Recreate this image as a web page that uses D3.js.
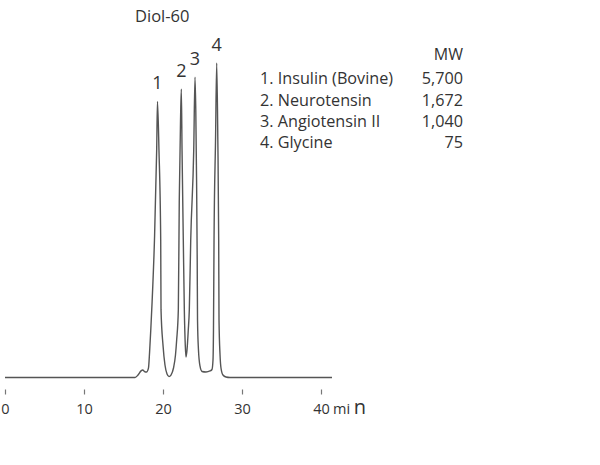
<!DOCTYPE html>
<html>
<head>
<meta charset="utf-8">
<script src="https://cdn.jsdelivr.net/npm/d3@7"></script>
<style>
  html, body { margin: 0; padding: 0; background: #fff; }
  svg { display: block; }
  text { font-family: "Open Sans", "Noto Sans", sans-serif; fill: #333; }
</style>
</head>
<body>
<div id="chart"></div>
<script>
// ---- data ----
const title = "Diol-60";
const xTicks = [0, 10, 20, 30, 40];
const unitLabel = ["mi ", "n"];

// chromatogram trace: time (min), signal (relative units)
const traceTime = [0, 16.46, 16.84, 17.22, 17.43, 17.66, 17.91, 18.16, 18.30, 18.45, 18.62, 18.92, 19.20, 19.30,
  19.49, 19.71, 19.75, 20.0, 20.25, 20.51, 20.76, 21.01, 21.33, 21.58, 21.73, 21.94, 22.06, 22.22, 22.32,
  22.41, 22.57, 22.70, 22.82, 22.91, 23.04, 23.20, 23.33, 23.51, 23.89, 24.05,
  24.15, 24.25, 24.33, 24.37, 24.49, 24.68, 24.94, 25.44, 25.95, 26.20, 26.33, 26.39, 26.46, 26.65, 26.80,
  26.94, 27.05, 27.09, 27.22, 27.34, 27.59, 27.97, 28.48, 41.39];
const traceSignal = [0, 0, 0.8, 2.1, 2.4, 1.9, 1.75, 3.0, 8.0, 15.0, 24.0, 43.7, 72.3, 87.8,
  72.3, 43.7, 21.5, 10.3, 3.97, 1.11, 0.32, 0.79, 3.02, 7.15, 11.9, 21.5, 56.4, 81.9, 91.7,
  72.3, 43.7, 21.5, 10.3, 6.52, 8.74, 15.1, 21.5, 43.7, 72.3, 95.5,
  85.1, 62.8, 37.4, 18.3, 8.74, 3.66, 1.91, 1.75, 2.07, 2.54, 5.56, 15.1, 43.7, 75.5, 100,
  75.5, 43.7, 18.3, 7.15, 3.02, 0.79, 0.16, 0, 0];

// peaks
const peakLabels = ["1", "2", "3", "4"];
const peakTime = [19.30, 22.32, 24.05, 26.80];
const peakSignal = [87.8, 91.7, 95.5, 100];

// legend table
const compoundNames = ["1. Insulin (Bovine)", "2. Neurotensin", "3. Angiotensin II", "4. Glycine"];
const compoundMW = ["5,700", "1,672", "1,040", "75"];
const mwHeader = "MW";

// ---- drawing ----
const W = 600, H = 465;
const svg = d3.select("#chart").append("svg").attr("width", W).attr("height", H);

const x = d3.scaleLinear().domain([0, 40]).range([5, 321]);
const y = d3.scaleLinear().domain([0, 100]).range([377.5, 63]);

const pts = traceTime.map((t, i) => [t, traceSignal[i]]);
const line = d3.line().x(d => x(d[0])).y(d => y(d[1])).curve(d3.curveMonotoneX);

svg.append("path")
  .datum(pts)
  .attr("d", line)
  .attr("fill", "none")
  .attr("stroke", "#555")
  .attr("stroke-width", 1.4)
  .attr("stroke-linejoin", "round");

// x axis: ticks only, no domain line
const axis = d3.axisBottom(x).tickValues(xTicks).tickSize(5).tickPadding(9).tickFormat(d3.format("d"));
const gAxis = svg.append("g").attr("transform", "translate(0,389.5)").call(axis);
gAxis.select(".domain").remove();
gAxis.selectAll(".tick line").attr("stroke", "#777").attr("stroke-width", 1.2);
gAxis.selectAll(".tick text")
  .attr("font-family", "'Open Sans', sans-serif")
  .attr("font-size", 14.5)
  .attr("fill", "#333");

// unit label
const unit = svg.append("text").attr("x", 333).attr("y", 414.3).attr("font-size", 14.5);
unit.append("tspan").text(unitLabel[0]);
unit.append("tspan").attr("font-size", 20).text(unitLabel[1]);

// title
svg.append("text").attr("x", 135).attr("y", 22).attr("font-size", 16.5).text(title);

// peak labels
svg.selectAll("text.peak")
  .data(peakLabels)
  .enter().append("text")
  .attr("class", "peak")
  .attr("x", (d, i) => x(peakTime[i]))
  .attr("y", (d, i) => y(peakSignal[i]) - 12)
  .attr("text-anchor", "middle")
  .attr("font-size", 18)
  .text(d => d);

// legend
const rowY = d3.scaleLinear().domain([0, 3]).range([84.3, 148.3]);
svg.append("text").attr("x", 463).attr("y", 60).attr("text-anchor", "end").attr("font-size", 16).text(mwHeader);
svg.selectAll("text.cname")
  .data(compoundNames)
  .enter().append("text")
  .attr("class", "cname")
  .attr("x", 260)
  .attr("y", (d, i) => rowY(i))
  .attr("font-size", 16.2)
  .text(d => d);
svg.selectAll("text.cmw")
  .data(compoundMW)
  .enter().append("text")
  .attr("class", "cmw")
  .attr("x", 463)
  .attr("y", (d, i) => rowY(i))
  .attr("text-anchor", "end")
  .attr("font-size", 16.2)
  .text(d => d);
</script>
</body>
</html>
